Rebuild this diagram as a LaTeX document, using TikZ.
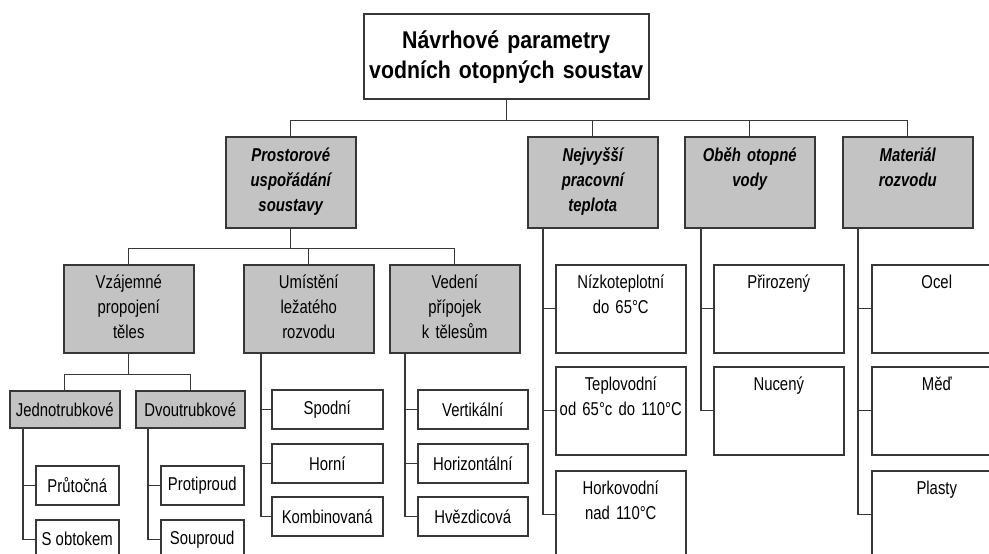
\documentclass[tikz,border=0pt]{standalone}
\usepackage{fontspec}
\setmainfont{Liberation Sans}[FakeStretch=0.8]
\newfontfamily\titulfont{Liberation Sans}[FakeStretch=0.88]

\definecolor{sediva}{RGB}{195,195,195}
\definecolor{ramec}{RGB}{55,55,55}

\tikzset{
  box/.style={draw=ramec, line width=0.75pt, inner xsep=0.5pt, inner ysep=0pt, align=center, anchor=north west},
  titul/.style={box, fill=white, minimum width=142.5pt, text width=141.5pt,
    font=\titulfont\bfseries\fontsize{12.1}{15}\selectfont, text height=17.5pt, text depth=25pt},
  kat/.style={box, fill=sediva, minimum width=65pt, text width=64pt,
    font=\bfseries\itshape\fontsize{9.3}{12.5}\selectfont, text height=12.5pt, text depth=33pt},
  skup/.style={box, fill=sediva, minimum width=65pt, text width=64pt,
    font=\fontsize{9.3}{12.5}\selectfont, text height=12pt, text depth=32pt},
  polozka/.style={box, fill=white, minimum width=65pt, text width=64pt,
    font=\fontsize{9.3}{12.5}\selectfont, text height=12pt, text depth=32pt},
  maly/.style={box, minimum height=19.5pt, font=\fontsize{9.3}{12}\selectfont},
  spoj/.style={draw=ramec, line width=0.6pt}
}

\begin{document}
\begin{tikzpicture}[x=0.5pt, y=-0.5pt]

\clip (0,0) rectangle (989,553);
\fill[white] (0,0) rectangle (989,553);

% Titul
\node[titul] (titul) at (363,13) {Návrhové parametry\\vodních otopných soustav};

% Hlavní kategorie
\node[kat] (prost) at (225,136) {Prostorové\\uspořádání\\soustavy};
\node[kat] (teplota) at (527,136) {Nejvyšší\\pracovní\\teplota};
\node[kat] (obeh) at (684,136) {Oběh otopné\\vody};
\node[kat] (material) at (842,136) {Materiál\\rozvodu};

% Prostorové uspořádání
\node[skup] (vzaj) at (63,264) {Vzájemné\\propojení\\těles};
\node[skup] (umist) at (243,264) {Umístění\\ležatého\\rozvodu};
\node[skup] (vedeni) at (389,264) {Vedení\\přípojek\\k tělesům};

\node[maly, fill=sediva, minimum width=55pt, minimum height=18.5pt] (jedno) at (9,390) {Jednotrubkové};
\node[maly, fill=sediva, minimum width=54.5pt, minimum height=18.5pt] (dvou) at (135,390) {Dvoutrubkové};

\node[maly, fill=white, minimum width=41.5pt] (prut) at (35,465) {Průtočná};
\node[maly, fill=white, minimum width=41.5pt] (obtok) at (35,519) {S obtokem};
\node[maly, fill=white, minimum width=41.5pt] (protip) at (160,465) {Protiproud};
\node[maly, fill=white, minimum width=41.5pt] (soupr) at (160,519) {Souproud};

\node[maly, fill=white, minimum width=55.5pt] (spodni) at (271,389) {Spodní};
\node[maly, fill=white, minimum width=55.5pt] (horni) at (271,443) {Horní};
\node[maly, fill=white, minimum width=55.5pt] (kombi) at (271,496) {Kombinovaná};

\node[maly, fill=white, minimum width=55pt] (vert) at (417,389) {Vertikální};
\node[maly, fill=white, minimum width=55pt] (horiz) at (417,443) {Horizontální};
\node[maly, fill=white, minimum width=55pt] (hvezd) at (417,496) {Hvězdicová};

% Teplota, oběh, materiál
\node[polozka] (nizko) at (555,264) {Nízkoteplotní\\do 65°C};
\node[polozka] (teplo) at (555,366) {Teplovodní\\od 65°c do 110°C};
\node[polozka] (horko) at (555,470) {Horkovodní\\nad 110°C};

\node[polozka] (prir) at (713,264) {Přirozený};
\node[polozka] (nuceny) at (713,366) {Nucený};

\node[polozka] (ocel) at (871,264) {Ocel};
\node[polozka] (med) at (871,366) {Měď};
\node[polozka] (plasty) at (871,470) {Plasty};

% Spojnice
\foreach \k in {prost,teplota,obeh,material}
  \draw[spoj] (titul.south) -- ++(0,21) -| (\k.north);
\foreach \k in {vzaj,umist,vedeni}
  \draw[spoj] (prost.south) -- ++(0,20) -| (\k.north);
\foreach \k in {jedno,dvou}
  \draw[spoj] (vzaj.south) -- ++(0,21) -| (\k.north);

\foreach \k in {prut,obtok}
  \draw[spoj] ([xshift=7pt]jedno.south west) |- (\k.west);
\foreach \k in {protip,soupr}
  \draw[spoj] ([xshift=6.5pt]dvou.south west) |- (\k.west);
\foreach \k in {spodni,horni,kombi}
  \draw[spoj] ([xshift=9pt]umist.south west) |- (\k.west);
\foreach \k in {vert,horiz,hvezd}
  \draw[spoj] ([xshift=8pt]vedeni.south west) |- (\k.west);
\foreach \k in {nizko,teplo,horko}
  \draw[spoj] ([xshift=8pt]teplota.south west) |- (\k.west);
\foreach \k in {prir,nuceny}
  \draw[spoj] ([xshift=8.5pt]obeh.south west) |- (\k.west);
\foreach \k in {ocel,med,plasty}
  \draw[spoj] ([xshift=8pt]material.south west) |- (\k.west);

\end{tikzpicture}
\end{document}
